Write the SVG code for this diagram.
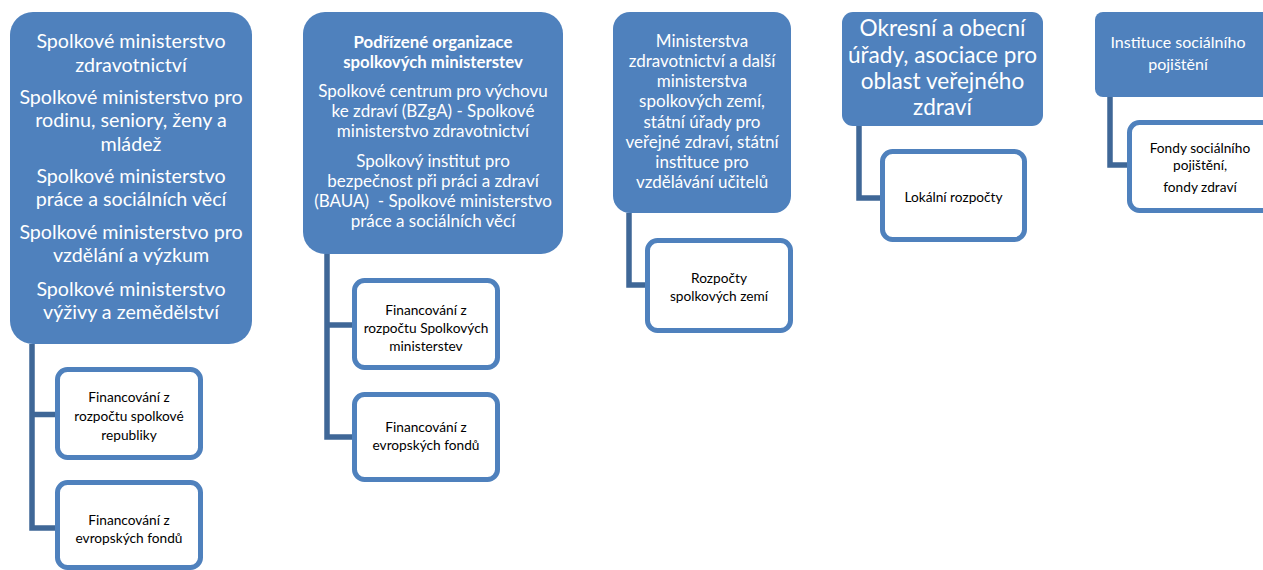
<svg xmlns="http://www.w3.org/2000/svg" width="1263" height="570" viewBox="0 0 1263 570">
<style>
.p{fill:#4F81BD}
.c{fill:#FFFFFF;stroke:#4F81BD;stroke-width:5}
.ln{fill:none;stroke:#3F6797;stroke-width:5.5;stroke-linejoin:miter}
text{font-family:Lato,"Liberation Sans",sans-serif;text-anchor:middle}
.w{fill:#FFFFFF}
.k{fill:#000000;font-size:13.7px}
</style>
<rect width="1263" height="570" fill="#FFFFFF"/>
<g id="connectors">
<path class="ln" d="M32,344 V528 H57 M32,414.5 H57"/>
<path class="ln" d="M327,254 V437 H352 M327,325 H352"/>
<path class="ln" d="M629,213 V285 H645"/>
<path class="ln" d="M859,126 V198 H880"/>
<path class="ln" d="M1110,97 V165 H1127"/>
</g>
<g id="n1">
<rect class="p" x="10" y="12" width="242" height="332" rx="23"/>
<text class="w" font-size="19.7"><tspan x="131" y="48">Spolkové ministerstvo</tspan><tspan x="131" y="72">zdravotnictví</tspan><tspan x="131" y="104">Spolkové ministerstvo pro</tspan><tspan x="131" y="127">rodinu, seniory, ženy a</tspan><tspan x="131" y="151">mládež</tspan><tspan x="131" y="183">Spolkové ministerstvo</tspan><tspan x="131" y="206">práce a sociálních věcí</tspan><tspan x="131" y="239">Spolkové ministerstvo pro</tspan><tspan x="131" y="262">vzdělání a výzkum</tspan><tspan x="131" y="296">Spolkové ministerstvo</tspan><tspan x="131" y="319">výživy a zemědělství</tspan></text>
</g>
<g id="n1a">
<rect class="c" x="57.5" y="369.5" width="143" height="88" rx="10"/>
<text class="k"><tspan x="129" y="402">Financování z</tspan><tspan x="129" y="421">rozpočtu spolkové</tspan><tspan x="129" y="440">republiky</tspan></text>
</g>
<g id="n1b">
<rect class="c" x="57.5" y="482.5" width="143" height="85" rx="10"/>
<text class="k"><tspan x="129" y="525">Financování z</tspan><tspan x="129" y="543">evropských fondů</tspan></text>
</g>
<g id="n2">
<rect class="p" x="303" y="12" width="260" height="242" rx="22"/>
<text class="w" font-size="16.8" font-weight="bold"><tspan x="433" y="48">Podřízené organizace</tspan><tspan x="433" y="68">spolkových ministerstev</tspan></text>
<text class="w" font-size="17"><tspan x="433" y="97">Spolkové centrum pro výchovu</tspan><tspan x="433" y="117">ke zdraví (BZgA) - Spolkové</tspan><tspan x="433" y="137">ministerstvo zdravotnictví</tspan><tspan x="433" y="167">Spolkový institut pro</tspan><tspan x="433" y="187">bezpečnost při práci a zdraví</tspan><tspan x="433" y="207">(BAUA)&#160; - Spolkové ministerstvo</tspan><tspan x="433" y="227">práce a sociálních věcí</tspan></text>
</g>
<g id="n2a">
<rect class="c" x="354.5" y="280.5" width="143" height="87" rx="10"/>
<text class="k"><tspan x="426" y="315">Financování z</tspan><tspan x="426" y="333">rozpočtu Spolkových</tspan><tspan x="426" y="351">ministerstev</tspan></text>
</g>
<g id="n2b">
<rect class="c" x="354.5" y="394.5" width="143" height="85" rx="10"/>
<text class="k"><tspan x="426" y="432">Financování z</tspan><tspan x="426" y="450">evropských fondů</tspan></text>
</g>
<g id="n3">
<rect class="p" x="613" y="12" width="178" height="201" rx="17"/>
<text class="w" font-size="17"><tspan x="702" y="47">Ministerstva</tspan><tspan x="702" y="67">zdravotnictví a další</tspan><tspan x="702" y="87">ministerstva</tspan><tspan x="702" y="107">spolkových zemí,</tspan><tspan x="702" y="128">státní úřady pro</tspan><tspan x="702" y="148">veřejné zdraví, státní</tspan><tspan x="702" y="168">instituce pro</tspan><tspan x="702" y="188">vzdělávání učitelů</tspan></text>
</g>
<g id="n3a">
<rect class="c" x="647.5" y="240.5" width="143" height="90" rx="10"/>
<text class="k"><tspan x="719" y="283">Rozpočty</tspan><tspan x="719" y="301">spolkových zemí</tspan></text>
</g>
<g id="n4">
<rect class="p" x="842" y="12" width="201" height="114" rx="11"/>
<text class="w" font-size="22.6"><tspan x="942.5" y="36">Okresní a obecní</tspan><tspan x="942.5" y="63">úřady, asociace pro</tspan><tspan x="942.5" y="89">oblast veřejného</tspan><tspan x="942.5" y="115">zdraví</tspan></text>
</g>
<g id="n4a">
<rect class="c" x="882.5" y="151.5" width="142" height="88" rx="10"/>
<text class="k"><tspan x="953.5" y="202">Lokální rozpočty</tspan></text>
</g>
<g id="n5">
<rect class="p" x="1095" y="12" width="180" height="85" rx="8"/>
<text class="w" font-size="16"><tspan x="1178" y="48">Instituce sociálního</tspan><tspan x="1178" y="70">pojištění</tspan></text>
</g>
<g id="n5a">
<rect class="c" x="1129.5" y="122.5" width="143" height="88" rx="10"/>
<text class="k"><tspan x="1200" y="153">Fondy sociálního</tspan><tspan x="1200" y="170">pojištění,</tspan><tspan x="1200" y="192">fondy zdraví</tspan></text>
</g>
</svg>
